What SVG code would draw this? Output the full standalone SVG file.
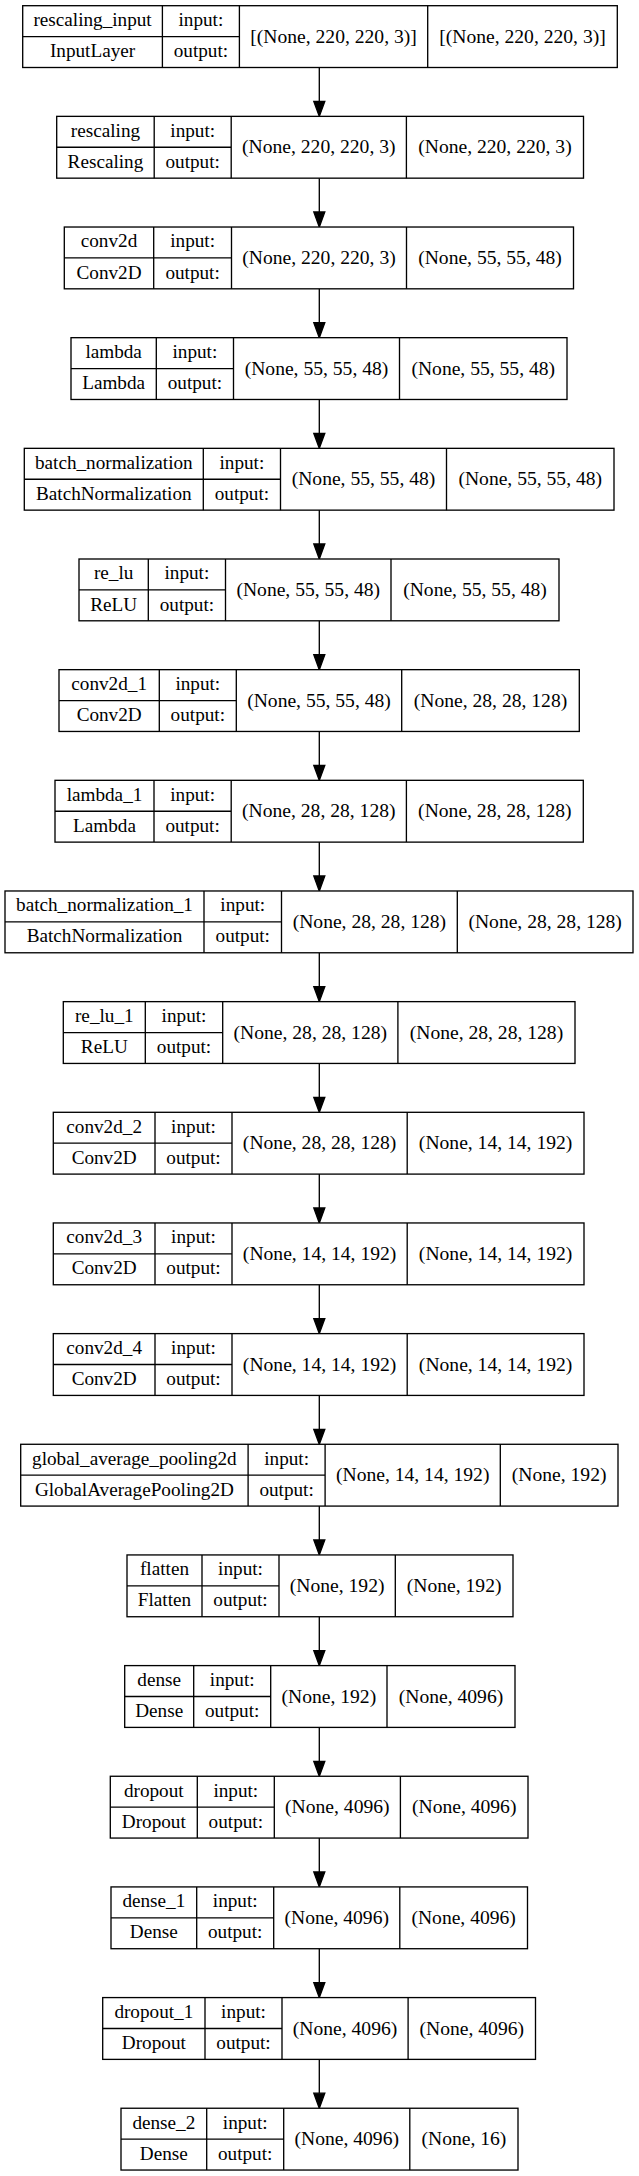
<svg xmlns="http://www.w3.org/2000/svg" width="639" height="2176" viewBox="0 0 639 2176">
<style>
.box{fill:#fff;stroke:#000;stroke-width:1.33}
.div{fill:none;stroke:#000;stroke-width:1.33}
text{font-family:"Liberation Serif","Times New Roman",serif;font-size:19.2px;fill:#000;text-anchor:middle}
text.s{font-size:19.6px}
.edge{fill:none;stroke:#000;stroke-width:1.33}
.head{fill:#000;stroke:#000;stroke-width:1.33}
</style>
<rect x="0" y="0" width="639" height="2176" fill="#fff"/>
<g id="connectors">
<path class="edge" d="M319.3,67.5V101.4M319.3,178.2V212.0M319.3,288.8V322.7M319.3,399.5V433.3M319.3,510.1V544.0M319.3,620.8V654.7M319.3,731.5V765.3M319.3,842.1V876.0M319.3,952.8V986.6M319.3,1063.4V1097.3M319.3,1174.1V1208.0M319.3,1284.8V1318.6M319.3,1395.4V1429.3M319.3,1506.1V1539.9M319.3,1616.7V1650.6M319.3,1727.4V1761.3M319.3,1838.1V1871.9M319.3,1948.7V1982.6M319.3,2059.4V2093.2"/>
<g class="head">
<polygon points="313.8,101.4 324.8,101.4 319.3,116.4"/>
<polygon points="313.8,212.0 324.8,212.0 319.3,227.0"/>
<polygon points="313.8,322.7 324.8,322.7 319.3,337.7"/>
<polygon points="313.8,433.3 324.8,433.3 319.3,448.3"/>
<polygon points="313.8,544.0 324.8,544.0 319.3,559.0"/>
<polygon points="313.8,654.7 324.8,654.7 319.3,669.7"/>
<polygon points="313.8,765.3 324.8,765.3 319.3,780.3"/>
<polygon points="313.8,876.0 324.8,876.0 319.3,891.0"/>
<polygon points="313.8,986.6 324.8,986.6 319.3,1001.6"/>
<polygon points="313.8,1097.3 324.8,1097.3 319.3,1112.3"/>
<polygon points="313.8,1208.0 324.8,1208.0 319.3,1223.0"/>
<polygon points="313.8,1318.6 324.8,1318.6 319.3,1333.6"/>
<polygon points="313.8,1429.3 324.8,1429.3 319.3,1444.3"/>
<polygon points="313.8,1539.9 324.8,1539.9 319.3,1554.9"/>
<polygon points="313.8,1650.6 324.8,1650.6 319.3,1665.6"/>
<polygon points="313.8,1761.3 324.8,1761.3 319.3,1776.3"/>
<polygon points="313.8,1871.9 324.8,1871.9 319.3,1886.9"/>
<polygon points="313.8,1982.6 324.8,1982.6 319.3,1997.6"/>
<polygon points="313.8,2093.2 324.8,2093.2 319.3,2108.2"/>
</g>
</g>
<g id="rescaling_input" transform="translate(0,5.7)">
<rect class="box" x="22.7" y="0" width="594.6" height="61.8"/>
<path class="div" d="M162.4,0V61.8M239.4,0V61.8M427.7,0V61.8M22.7,30.9H239.4"/>
<text x="92.55" y="20.4">rescaling_input</text><text x="92.55" y="51.5">InputLayer</text>
<text x="200.9" y="20.4">input:</text><text x="200.9" y="51.5">output:</text>
<text class="s" x="333.55" y="37">[(None, 220, 220, 3)]</text><text class="s" x="522.5" y="37">[(None, 220, 220, 3)]</text>
</g>
<g id="rescaling" transform="translate(0,116.36)">
<rect class="box" x="56.7" y="0" width="526.8" height="61.8"/>
<path class="div" d="M154.2,0V61.8M231.2,0V61.8M406.4,0V61.8M56.7,30.9H231.2"/>
<text x="105.45" y="20.4">rescaling</text><text x="105.45" y="51.5">Rescaling</text>
<text x="192.7" y="20.4">input:</text><text x="192.7" y="51.5">output:</text>
<text class="s" x="318.8" y="37">(None, 220, 220, 3)</text><text class="s" x="494.95" y="37">(None, 220, 220, 3)</text>
</g>
<g id="conv2d" transform="translate(0,227.02)">
<rect class="box" x="64.3" y="0" width="509.2" height="61.8"/>
<path class="div" d="M153.7,0V61.8M231.5,0V61.8M406.5,0V61.8M64.3,30.9H231.5"/>
<text x="109" y="20.4">conv2d</text><text x="109" y="51.5">Conv2D</text>
<text x="192.6" y="20.4">input:</text><text x="192.6" y="51.5">output:</text>
<text class="s" x="319" y="37">(None, 220, 220, 3)</text><text class="s" x="490" y="37">(None, 55, 55, 48)</text>
</g>
<g id="lambda" transform="translate(0,337.68)">
<rect class="box" x="71" y="0" width="496" height="61.8"/>
<path class="div" d="M156.3,0V61.8M233.5,0V61.8M399.5,0V61.8M71,30.9H233.5"/>
<text x="113.65" y="20.4">lambda</text><text x="113.65" y="51.5">Lambda</text>
<text x="194.9" y="20.4">input:</text><text x="194.9" y="51.5">output:</text>
<text class="s" x="316.5" y="37">(None, 55, 55, 48)</text><text class="s" x="483.25" y="37">(None, 55, 55, 48)</text>
</g>
<g id="batch_normalization" transform="translate(0,448.34)">
<rect class="box" x="24.3" y="0" width="589.7" height="61.8"/>
<path class="div" d="M203.3,0V61.8M280.5,0V61.8M446.5,0V61.8M24.3,30.9H280.5"/>
<text x="113.8" y="20.4">batch_normalization</text><text x="113.8" y="51.5">BatchNormalization</text>
<text x="241.9" y="20.4">input:</text><text x="241.9" y="51.5">output:</text>
<text class="s" x="363.5" y="37">(None, 55, 55, 48)</text><text class="s" x="530.25" y="37">(None, 55, 55, 48)</text>
</g>
<g id="re_lu" transform="translate(0,559.0)">
<rect class="box" x="79" y="0" width="480" height="61.8"/>
<path class="div" d="M148.3,0V61.8M225.5,0V61.8M391,0V61.8M79,30.9H225.5"/>
<text x="113.65" y="20.4">re_lu</text><text x="113.65" y="51.5">ReLU</text>
<text x="186.9" y="20.4">input:</text><text x="186.9" y="51.5">output:</text>
<text class="s" x="308.25" y="37">(None, 55, 55, 48)</text><text class="s" x="475" y="37">(None, 55, 55, 48)</text>
</g>
<g id="conv2d_1" transform="translate(0,669.66)">
<rect class="box" x="59" y="0" width="520.3" height="61.8"/>
<path class="div" d="M159.3,0V61.8M236.3,0V61.8M401.7,0V61.8M59,30.9H236.3"/>
<text x="109.15" y="20.4">conv2d_1</text><text x="109.15" y="51.5">Conv2D</text>
<text x="197.8" y="20.4">input:</text><text x="197.8" y="51.5">output:</text>
<text class="s" x="319" y="37">(None, 55, 55, 48)</text><text class="s" x="490.5" y="37">(None, 28, 28, 128)</text>
</g>
<g id="lambda_1" transform="translate(0,780.32)">
<rect class="box" x="55" y="0" width="528.3" height="61.8"/>
<path class="div" d="M154,0V61.8M231.2,0V61.8M406.4,0V61.8M55,30.9H231.2"/>
<text x="104.5" y="20.4">lambda_1</text><text x="104.5" y="51.5">Lambda</text>
<text x="192.6" y="20.4">input:</text><text x="192.6" y="51.5">output:</text>
<text class="s" x="318.8" y="37">(None, 28, 28, 128)</text><text class="s" x="494.85" y="37">(None, 28, 28, 128)</text>
</g>
<g id="batch_normalization_1" transform="translate(0,890.98)">
<rect class="box" x="5" y="0" width="628" height="61.8"/>
<path class="div" d="M204,0V61.8M281.5,0V61.8M457.3,0V61.8M5,30.9H281.5"/>
<text x="104.5" y="20.4">batch_normalization_1</text><text x="104.5" y="51.5">BatchNormalization</text>
<text x="242.75" y="20.4">input:</text><text x="242.75" y="51.5">output:</text>
<text class="s" x="369.4" y="37">(None, 28, 28, 128)</text><text class="s" x="545.15" y="37">(None, 28, 28, 128)</text>
</g>
<g id="re_lu_1" transform="translate(0,1001.64)">
<rect class="box" x="63.3" y="0" width="511.7" height="61.8"/>
<path class="div" d="M145.3,0V61.8M222.7,0V61.8M397.9,0V61.8M63.3,30.9H222.7"/>
<text x="104.3" y="20.4">re_lu_1</text><text x="104.3" y="51.5">ReLU</text>
<text x="184" y="20.4">input:</text><text x="184" y="51.5">output:</text>
<text class="s" x="310.3" y="37">(None, 28, 28, 128)</text><text class="s" x="486.45" y="37">(None, 28, 28, 128)</text>
</g>
<g id="conv2d_2" transform="translate(0,1112.3)">
<rect class="box" x="53.3" y="0" width="530.7" height="61.8"/>
<path class="div" d="M155,0V61.8M232,0V61.8M407.2,0V61.8M53.3,30.9H232"/>
<text x="104.15" y="20.4">conv2d_2</text><text x="104.15" y="51.5">Conv2D</text>
<text x="193.5" y="20.4">input:</text><text x="193.5" y="51.5">output:</text>
<text class="s" x="319.6" y="37">(None, 28, 28, 128)</text><text class="s" x="495.6" y="37">(None, 14, 14, 192)</text>
</g>
<g id="conv2d_3" transform="translate(0,1222.96)">
<rect class="box" x="53.3" y="0" width="530.7" height="61.8"/>
<path class="div" d="M155,0V61.8M232,0V61.8M407.2,0V61.8M53.3,30.9H232"/>
<text x="104.15" y="20.4">conv2d_3</text><text x="104.15" y="51.5">Conv2D</text>
<text x="193.5" y="20.4">input:</text><text x="193.5" y="51.5">output:</text>
<text class="s" x="319.6" y="37">(None, 14, 14, 192)</text><text class="s" x="495.6" y="37">(None, 14, 14, 192)</text>
</g>
<g id="conv2d_4" transform="translate(0,1333.62)">
<rect class="box" x="53.3" y="0" width="530.7" height="61.8"/>
<path class="div" d="M155,0V61.8M232,0V61.8M407.2,0V61.8M53.3,30.9H232"/>
<text x="104.15" y="20.4">conv2d_4</text><text x="104.15" y="51.5">Conv2D</text>
<text x="193.5" y="20.4">input:</text><text x="193.5" y="51.5">output:</text>
<text class="s" x="319.6" y="37">(None, 14, 14, 192)</text><text class="s" x="495.6" y="37">(None, 14, 14, 192)</text>
</g>
<g id="global_average_pooling2d" transform="translate(0,1444.28)">
<rect class="box" x="20.7" y="0" width="597.3" height="61.8"/>
<path class="div" d="M248.1,0V61.8M325.1,0V61.8M500.3,0V61.8M20.7,30.9H325.1"/>
<text x="134.4" y="20.4">global_average_pooling2d</text><text x="134.4" y="51.5">GlobalAveragePooling2D</text>
<text x="286.6" y="20.4">input:</text><text x="286.6" y="51.5">output:</text>
<text class="s" x="412.7" y="37">(None, 14, 14, 192)</text><text class="s" x="559.15" y="37">(None, 192)</text>
</g>
<g id="flatten" transform="translate(0,1554.94)">
<rect class="box" x="127" y="0" width="386" height="61.8"/>
<path class="div" d="M202,0V61.8M279,0V61.8M395.3,0V61.8M127,30.9H279"/>
<text x="164.5" y="20.4">flatten</text><text x="164.5" y="51.5">Flatten</text>
<text x="240.5" y="20.4">input:</text><text x="240.5" y="51.5">output:</text>
<text class="s" x="337.15" y="37">(None, 192)</text><text class="s" x="454.15" y="37">(None, 192)</text>
</g>
<g id="dense" transform="translate(0,1665.6)">
<rect class="box" x="124.7" y="0" width="390.3" height="61.8"/>
<path class="div" d="M193.7,0V61.8M270.7,0V61.8M387,0V61.8M124.7,30.9H270.7"/>
<text x="159.2" y="20.4">dense</text><text x="159.2" y="51.5">Dense</text>
<text x="232.2" y="20.4">input:</text><text x="232.2" y="51.5">output:</text>
<text class="s" x="328.85" y="37">(None, 192)</text><text class="s" x="451" y="37">(None, 4096)</text>
</g>
<g id="dropout" transform="translate(0,1776.26)">
<rect class="box" x="110.3" y="0" width="417.7" height="61.8"/>
<path class="div" d="M197.3,0V61.8M274.3,0V61.8M400.4,0V61.8M110.3,30.9H274.3"/>
<text x="153.8" y="20.4">dropout</text><text x="153.8" y="51.5">Dropout</text>
<text x="235.8" y="20.4">input:</text><text x="235.8" y="51.5">output:</text>
<text class="s" x="337.35" y="37">(None, 4096)</text><text class="s" x="464.2" y="37">(None, 4096)</text>
</g>
<g id="dense_1" transform="translate(0,1886.92)">
<rect class="box" x="111" y="0" width="416.5" height="61.8"/>
<path class="div" d="M196.7,0V61.8M273.7,0V61.8M399.8,0V61.8M111,30.9H273.7"/>
<text x="153.85" y="20.4">dense_1</text><text x="153.85" y="51.5">Dense</text>
<text x="235.2" y="20.4">input:</text><text x="235.2" y="51.5">output:</text>
<text class="s" x="336.75" y="37">(None, 4096)</text><text class="s" x="463.65" y="37">(None, 4096)</text>
</g>
<g id="dropout_1" transform="translate(0,1997.58)">
<rect class="box" x="102.7" y="0" width="432.8" height="61.8"/>
<path class="div" d="M205,0V61.8M282,0V61.8M408.1,0V61.8M102.7,30.9H282"/>
<text x="153.85" y="20.4">dropout_1</text><text x="153.85" y="51.5">Dropout</text>
<text x="243.5" y="20.4">input:</text><text x="243.5" y="51.5">output:</text>
<text class="s" x="345.05" y="37">(None, 4096)</text><text class="s" x="471.8" y="37">(None, 4096)</text>
</g>
<g id="dense_2" transform="translate(0,2108.24)">
<rect class="box" x="121" y="0" width="397" height="61.8"/>
<path class="div" d="M206.7,0V61.8M283.7,0V61.8M409.8,0V61.8M121,30.9H283.7"/>
<text x="163.85" y="20.4">dense_2</text><text x="163.85" y="51.5">Dense</text>
<text x="245.2" y="20.4">input:</text><text x="245.2" y="51.5">output:</text>
<text class="s" x="346.75" y="37">(None, 4096)</text><text class="s" x="463.9" y="37">(None, 16)</text>
</g>
</svg>
